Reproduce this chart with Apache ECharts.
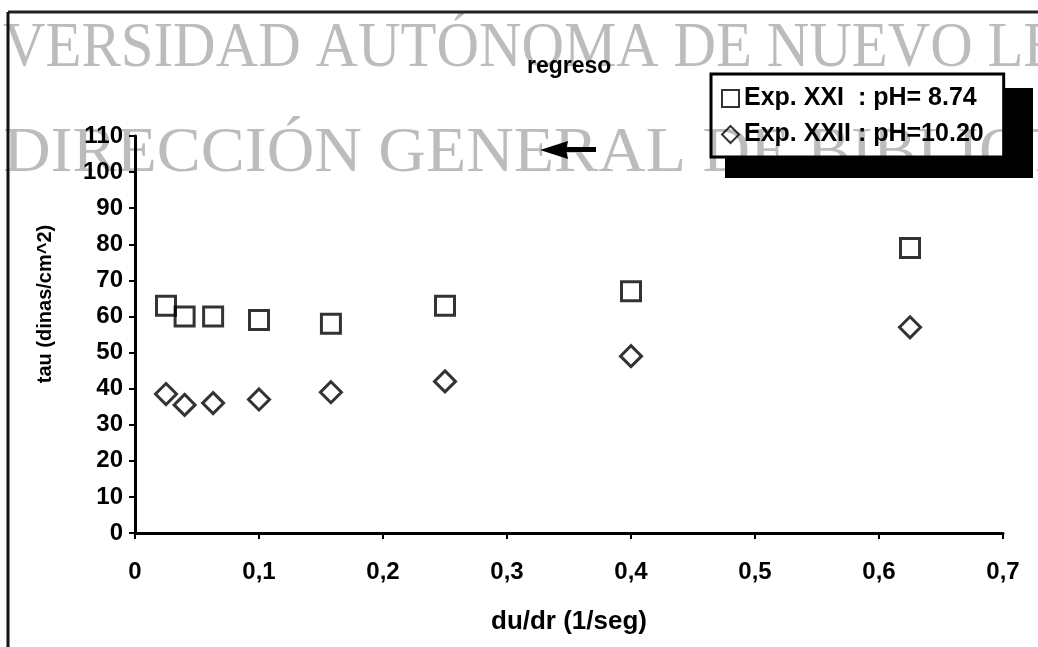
<!DOCTYPE html>
<html>
<head>
<meta charset="utf-8">
<script src="https://cdn.jsdelivr.net/npm/echarts@6/dist/echarts.min.js"></script>
<style>
html,body{margin:0;padding:0;background:#fff;}
#chart{width:1038px;height:647px;}
</style>
</head>
<body>
<div id="chart"></div>
<script>
// ---- data ----
const xValues = [0.025, 0.04, 0.063, 0.1, 0.158, 0.25, 0.4, 0.625];
const expXXI  = [63, 60, 60, 59, 58, 63, 67, 79];
const expXXII = [38.5, 35.5, 36, 37, 39, 42, 49, 57];
const seriesNames = ['Exp. XXI  : pH= 8.74', 'Exp. XXII : pH=10.20'];
const titleText = 'regreso';
const xAxisName = 'du/dr (1/seg)';
const yAxisName = 'tau (dinas/cm^2)';
const watermark1 = 'VERSIDAD AUTÓNOMA DE NUEVO LE';
const watermark2 = 'DIRECCIÓN GENERAL DE BIBLIOTECAS';

const FONT = '"Liberation Sans", Arial, sans-serif';
const pairs = (xs, ys) => xs.map((x, i) => [x, ys[i]]);
const hollow = {color: 'rgba(0,0,0,0)', borderColor: '#000', borderWidth: 3};

const chart = echarts.init(document.getElementById('chart'), null, {renderer: 'canvas'});
chart.setOption({
  animation: false,
  backgroundColor: '#fff',
  title: {
    text: titleText, left: 527, top: 55, padding: 0,
    textStyle: {fontFamily: FONT, fontSize: 23, fontWeight: 'bold', color: '#000'}
  },
  legend: {
    orient: 'vertical', left: 711, top: 74,
    padding: [12, 20, 10, 10], itemGap: 11,
    itemWidth: 17, itemHeight: 17,
    backgroundColor: 'transparent', borderColor: '#000', borderWidth: 3,
    z: 5,
    itemStyle: {color: 'rgba(0,0,0,0)', borderColor: '#000', borderWidth: 2},
    textStyle: {fontFamily: FONT, fontSize: 25, fontWeight: 'bold', color: '#000'},
    data: [{name: seriesNames[0], icon: 'rect'}, {name: seriesNames[1], icon: 'diamond'}]
  },
  grid: {left: 135, right: 35, top: 136, bottom: 114, containLabel: false},
  xAxis: {
    type: 'value', min: 0, max: 0.7, interval: 0.1, z: 3,
    name: xAxisName, nameLocation: 'middle', nameGap: 76,
    nameTextStyle: {fontFamily: FONT, fontSize: 26, fontWeight: 'bold', color: '#000'},
    axisLine: {show: true, lineStyle: {color: '#000', width: 3}},
    axisTick: {show: true, inside: false, length: 6, lineStyle: {color: '#000', width: 2}},
    axisLabel: {
      margin: 27, fontFamily: FONT, fontSize: 24, fontWeight: 'bold', color: '#000',
      formatter: v => (Math.round(v * 10) / 10).toString().replace('.', ',')
    },
    splitLine: {show: false}
  },
  yAxis: {
    type: 'value', min: 0, max: 110, interval: 10, z: 3,
    axisLine: {show: true, lineStyle: {color: '#000', width: 3}},
    axisTick: {show: true, inside: false, length: 6, lineStyle: {color: '#000', width: 2}},
    axisLabel: {margin: 12, fontFamily: FONT, fontSize: 24, fontWeight: 'bold', color: '#000'},
    splitLine: {show: false}
  },
  series: [
    {
      name: seriesNames[0], type: 'scatter', symbol: 'rect', symbolSize: 19, z: 4,
      itemStyle: hollow, emphasis: {disabled: true},
      data: pairs(xValues, expXXI)
    },
    {
      name: seriesNames[1], type: 'scatter', symbol: 'diamond', symbolSize: 21, z: 4,
      itemStyle: hollow, emphasis: {disabled: true},
      data: pairs(xValues, expXXII)
    }
  ],
  graphic: [
    // scan watermark
    {type: 'text', x: 3, y: 49, z: 1, scaleX: 0.92, silent: true,
     style: {text: watermark1, font: '64px "Liberation Serif", "Times New Roman", serif',
             fill: '#bcbcbc', textVerticalAlign: 'middle'}},
    {type: 'text', x: 3, y: 154, z: 1, scaleX: 1.03, silent: true,
     style: {text: watermark2, font: '64px "Liberation Serif", "Times New Roman", serif',
             fill: '#bcbcbc', textVerticalAlign: 'middle'}},
    // page frame lines of the scan
    {type: 'line', z: 2, shape: {x1: 8, y1: 12, x2: 1038, y2: 12}, style: {stroke: '#222', lineWidth: 3}},
    {type: 'line', z: 2, shape: {x1: 8, y1: 12, x2: 8, y2: 647}, style: {stroke: '#111', lineWidth: 3}},
    // y axis title
    {type: 'text', x: 45, y: 304, z: 3, rotation: Math.PI / 2,
     style: {text: yAxisName, font: 'bold 20px ' + FONT, fill: '#000',
             textAlign: 'center', textVerticalAlign: 'middle'}},
    // legend drop shadow
    {type: 'rect', z: 6, shape: {x: 1003, y: 88, width: 30, height: 90}, style: {fill: '#000'}},
    {type: 'rect', z: 6, shape: {x: 725, y: 156, width: 280, height: 22}, style: {fill: '#000'}},
    // arrow annotation
    {type: 'polygon', z: 6, shape: {points: [[540, 150], [568, 141], [566, 150], [568, 159]]}, style: {fill: '#000'}},
    {type: 'rect', z: 6, shape: {x: 564, y: 147, width: 32, height: 5}, style: {fill: '#000'}}
  ]
});
</script>
</body>
</html>
